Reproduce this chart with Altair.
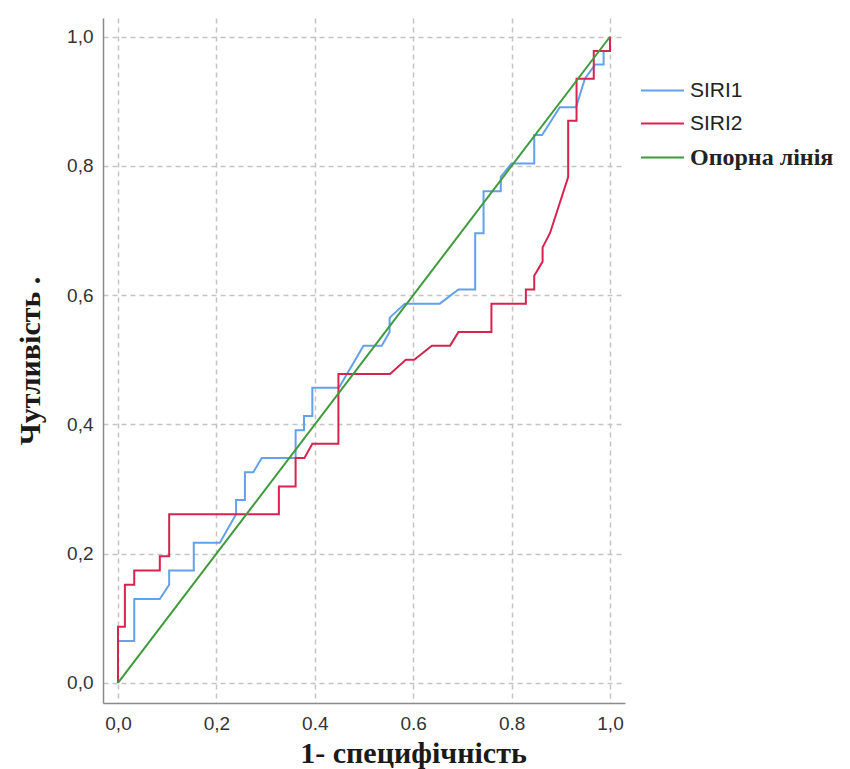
import altair as alt
import pandas as pd

# ---- data ----
fpr_siri1 = [0.0, 0.0, 0.033, 0.033, 0.085, 0.104, 0.104, 0.154, 0.154, 0.207, 0.240, 0.240,
             0.258, 0.258, 0.275, 0.292, 0.361, 0.361, 0.378, 0.378, 0.395, 0.395, 0.449,
             0.499, 0.536, 0.552, 0.552, 0.583, 0.654, 0.692, 0.726, 0.726, 0.743, 0.743,
             0.778, 0.778, 0.800, 0.846, 0.846, 0.862, 0.898, 0.931, 0.949, 0.970, 0.987,
             0.987, 1.0, 1.0]
tpr_siri1 = [0.0, 0.065, 0.065, 0.130, 0.130, 0.152, 0.174, 0.174, 0.217, 0.217, 0.261, 0.283,
             0.283, 0.326, 0.326, 0.348, 0.348, 0.391, 0.391, 0.413, 0.413, 0.457, 0.457,
             0.522, 0.522, 0.543, 0.565, 0.587, 0.587, 0.609, 0.609, 0.696, 0.696, 0.761,
             0.761, 0.783, 0.804, 0.804, 0.848, 0.848, 0.891, 0.891, 0.935, 0.957, 0.957,
             0.978, 0.978, 1.0]

fpr_siri2 = [0.0, 0.0, 0.014, 0.014, 0.033, 0.033, 0.085, 0.085, 0.104, 0.104, 0.327, 0.327,
             0.361, 0.361, 0.379, 0.395, 0.448, 0.448, 0.553, 0.585, 0.602, 0.638, 0.675,
             0.692, 0.759, 0.759, 0.829, 0.829, 0.846, 0.846, 0.863, 0.863, 0.878, 0.915,
             0.915, 0.932, 0.932, 0.967, 0.967, 1.0, 1.0]
tpr_siri2 = [0.0, 0.087, 0.087, 0.152, 0.152, 0.174, 0.174, 0.196, 0.196, 0.261, 0.261, 0.304,
             0.304, 0.348, 0.348, 0.370, 0.370, 0.478, 0.478, 0.500, 0.500, 0.522, 0.522,
             0.543, 0.543, 0.587, 0.587, 0.609, 0.609, 0.630, 0.652, 0.674, 0.696, 0.783,
             0.870, 0.870, 0.935, 0.935, 0.978, 0.978, 1.0]

ref_x = [0.0, 1.0]
ref_y = [0.0, 1.0]

series_names = ["SIRI1", "SIRI2"]
ref_name = "Опорна лінія"
series_colors = ["#63a1ea", "#d8234e"]
ref_color = "#3f9a3c"
tick_values = [0.0, 0.2, 0.4, 0.6, 0.8, 1.0]

rows = []
for name, xs, ys in [("SIRI1", fpr_siri1, tpr_siri1), ("SIRI2", fpr_siri2, tpr_siri2)]:
    for i, (xv, yv) in enumerate(zip(xs, ys)):
        rows.append({"series": name, "fpr": xv, "tpr": yv, "idx": i})
roc = pd.DataFrame(rows)
ref = pd.DataFrame({"series": [ref_name] * len(ref_x), "fpr": ref_x, "tpr": ref_y,
                    "idx": list(range(len(ref_x)))})

xscale = alt.Scale(domain=[-0.0305, 1.0305], nice=False, zero=False)
yscale = alt.Scale(domain=[-0.031, 1.029], nice=False, zero=False)

x_axis = alt.Axis(
    values=tick_values,
    title="1- специфічність",
    labelExpr="datum.value < 0.1 ? '0,0' : datum.value < 0.3 ? '0,2' : datum.value < 0.5 ? '0.4' : datum.value < 0.7 ? '0.6' : datum.value < 0.9 ? '0.8' : '1,0'",
    titleX=310,
    titlePadding=5,
    labelPadding=11,
)
y_axis = alt.Axis(
    values=tick_values,
    title="Чутливість .",
    labelExpr="replace(format(datum.value, '.1f'), '.', ',')",
    titlePadding=21,
    labelPadding=10,
)

legend_common = dict(
    orient="none",
    title=None,
    symbolType="stroke",
    symbolSize=1849,
    symbolStrokeWidth=2,
    labelOffset=5,
    padding=0,
    labelColor="#222222",
)

roc_layer = alt.Chart(roc).mark_line(strokeWidth=2).encode(
    x=alt.X("fpr:Q", scale=xscale, axis=x_axis),
    y=alt.Y("tpr:Q", scale=yscale, axis=y_axis),
    color=alt.Color(
        "series:N",
        scale=alt.Scale(domain=series_names, range=series_colors),
        legend=alt.Legend(legendX=537, legendY=50, labelFont="Liberation Sans",
                          labelFontSize=21, rowPadding=-14, **legend_common),
    ),
    order="idx:Q",
)

ref_layer = alt.Chart(ref).mark_line(strokeWidth=2).encode(
    x=alt.X("fpr:Q", scale=xscale),
    y=alt.Y("tpr:Q", scale=yscale),
    color=alt.Color(
        "series:N",
        scale=alt.Scale(domain=[ref_name], range=[ref_color]),
        legend=alt.Legend(legendX=537, legendY=117, labelFont="Liberation Serif",
                          labelFontWeight="bold", labelFontSize=24, rowPadding=-12,
                          **legend_common),
    ),
    order="idx:Q",
)

chart = (
    alt.layer(roc_layer, ref_layer)
    .resolve_scale(color="independent")
    .properties(
        width=522,
        height=685,
        autosize=alt.AutoSizeParams(type="none"),
        padding={"left": 95, "top": 10, "right": 210, "bottom": 75},
    )
    .configure_view(stroke=None)
    .configure_axis(
        domainColor="#8a8a8a",
        domainWidth=1.5,
        ticks=False,
        grid=True,
        gridColor="#c4c4c4",
        gridDash=[5, 4],
        gridWidth=1.5,
        labelFont="Liberation Sans",
        labelFontSize=19,
        labelColor="#333333",
        titleFont="Liberation Serif",
        titleFontSize=30,
        titleFontWeight="bold",
        titleColor="#1a1a1a",
    )
)

chart.save("out.html", embed_options={"renderer": "svg", "actions": False})
